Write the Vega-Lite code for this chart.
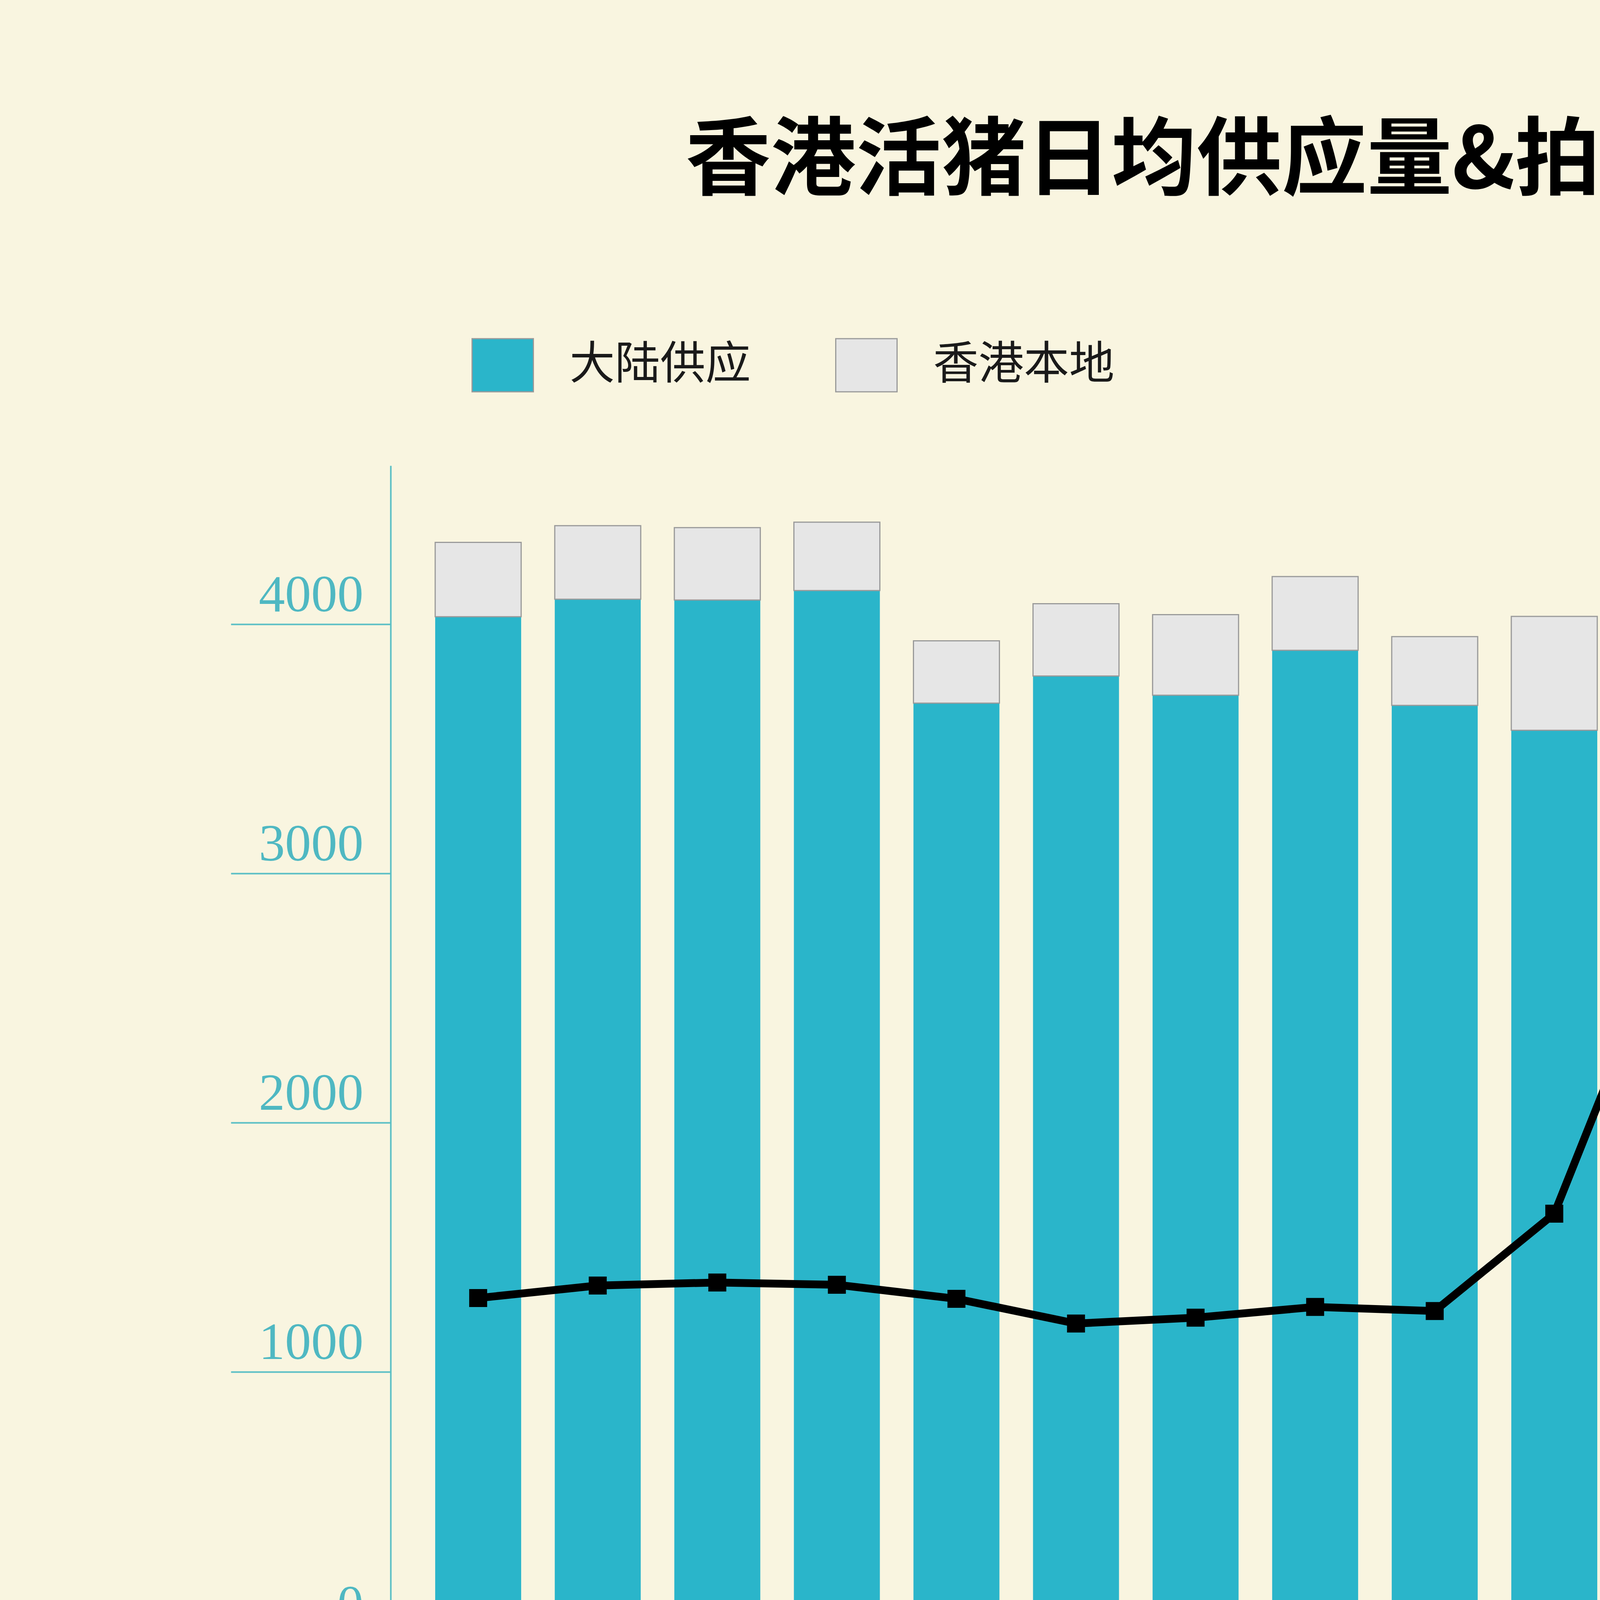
{
  "$schema": "https://vega.github.io/schema/vega-lite/v6.json",
  "description": "香港活猪日均供应量与拍卖价",
  "width": 6128,
  "height": 5594,
  "autosize": {"type": "none"},
  "padding": 0,
  "background": "#f9f5e0",
  "title": {
    "text": "香港活猪日均供应量&拍卖价",
    "font": "Noto Sans CJK SC",
    "fontSize": 218,
    "fontWeight": "bold",
    "color": "#000000",
    "anchor": "middle",
    "frame": "group",
    "baseline": "alphabetic",
    "dx": 80,
    "offset": -700,
    "limit": 0
  },
  "config": {
    "view": {"stroke": null},
    "axis": {"grid": false}
  },
  "datasets": {
    "supply": [
      {"month": "2018/08", "source": "大陆供应", "count": 4030},
      {"month": "2018/08", "source": "香港本地", "count": 298},
      {"month": "2018/09", "source": "大陆供应", "count": 4100},
      {"month": "2018/09", "source": "香港本地", "count": 295},
      {"month": "2018/10", "source": "大陆供应", "count": 4097},
      {"month": "2018/10", "source": "香港本地", "count": 290},
      {"month": "2018/11", "source": "大陆供应", "count": 4135},
      {"month": "2018/11", "source": "香港本地", "count": 274},
      {"month": "2018/12", "source": "大陆供应", "count": 3683},
      {"month": "2018/12", "source": "香港本地", "count": 250},
      {"month": "2019/01", "source": "大陆供应", "count": 3792},
      {"month": "2019/01", "source": "香港本地", "count": 290},
      {"month": "2019/02", "source": "大陆供应", "count": 3715},
      {"month": "2019/02", "source": "香港本地", "count": 323},
      {"month": "2019/03", "source": "大陆供应", "count": 3895},
      {"month": "2019/03", "source": "香港本地", "count": 296},
      {"month": "2019/04", "source": "大陆供应", "count": 3674},
      {"month": "2019/04", "source": "香港本地", "count": 276},
      {"month": "2019/05", "source": "大陆供应", "count": 3574},
      {"month": "2019/05", "source": "香港本地", "count": 457},
      {"month": "2019/06", "source": "大陆供应", "count": 1788},
      {"month": "2019/06", "source": "香港本地", "count": 392},
      {"month": "2019/07", "source": "大陆供应", "count": 1708},
      {"month": "2019/07", "source": "香港本地", "count": 295},
      {"month": "2019/08/20", "source": "大陆供应", "count": 1256},
      {"month": "2019/08/20", "source": "香港本地", "count": 288}
    ],
    "price": [
      {"month": "2018/08", "price": 1268},
      {"month": "2018/09", "price": 1317},
      {"month": "2018/10", "price": 1329},
      {"month": "2018/11", "price": 1320},
      {"month": "2018/12", "price": 1265},
      {"month": "2019/01", "price": 1168},
      {"month": "2019/02", "price": 1191},
      {"month": "2019/03", "price": 1233},
      {"month": "2019/04", "price": 1217},
      {"month": "2019/05", "price": 1599},
      {"month": "2019/06", "price": 2773},
      {"month": "2019/07", "price": 3282},
      {"month": "2019/08/20", "price": 4254}
    ]
  },
  "layer": [
    {
      "data": {"name": "supply"},
      "mark": {"type": "bar", "stroke": "#9a9a9a"},
      "encoding": {
        "x": {
          "field": "month",
          "type": "nominal",
          "sort": null,
          "scale": {"range": [1000, 5195], "paddingInner": 0.281, "paddingOuter": 0.493, "align": 0.378},
          "axis": {
            "orient": "bottom",
            "offset": -1444,
            "labelAngle": 0,
            "ticks": false,
            "domainColor": "#111111",
            "domainWidth": 5,
            "labelFont": "Liberation Serif",
            "labelFontSize": 142,
            "labelColor": "#111111",
            "labelPadding": 81,
            "labelLimit": 3000,
            "labelOverlap": false,
            "labelExpr": "datum.value == '2019/06' ? '06' : datum.value == '2019/07' ? '07' : (datum.value == '2018/08' || datum.value == '2019/02' || datum.value == '2019/08/20') ? datum.value : ''",
            "labelAlign": {"condition": {"test": "datum.value == '2019/08/20'", "value": "left"}, "value": "center"},
            "labelOffset": {"condition": {"test": "datum.value == '2019/08/20'", "value": -127}, "value": 0},
            "title": ["数据来源：香港特别行政区食物环境卫生署", "www.fehd.gov.hk/sc_chi/sh/data/supply_avg_tw.html"],
            "titleFont": "DejaVu Serif, Noto Sans CJK SC",
            "titleFontSize": 108,
            "titleFontWeight": "normal",
            "titleColor": "#585858",
            "titleAlign": "left",
            "titleBaseline": "alphabetic",
            "titleLineHeight": 139,
            "titleX": 996,
            "titleY": 623,
            "titleLimit": 10000
          }
        },
        "y": {
          "field": "count",
          "type": "quantitative",
          "stack": "zero",
          "scale": {"domain": [0, 4636], "range": [4150, 1192], "nice": false},
          "axis": {
            "orient": "left",
            "offset": -1000,
            "zindex": 1,
            "values": [0, 1000, 2000, 3000, 4000],
            "format": "d",
            "domainColor": "#5bbfc5",
            "domainWidth": 4,
            "tickColor": "#5bbfc5",
            "tickWidth": 4,
            "tickSize": 409,
            "tickOpacity": {"condition": {"test": "datum.value == 0", "value": 0}, "value": 1},
            "labelFont": "Liberation Serif",
            "labelFontSize": 134,
            "labelColor": "#4fb8c2",
            "labelAlign": "right",
            "labelBaseline": "alphabetic",
            "labelPadding": -339,
            "labelOffset": {"condition": {"test": "datum.value == 0", "value": 0}, "value": -33},
            "labelLimit": 1000,
            "title": ["若有机构需要香港公开数据，且同样相信客观数据的力量", "请与我们联系 ，我们提供数据查询、分析、图表支持"],
            "titleFont": "Noto Sans CJK SC",
            "titleFontSize": 119,
            "titleFontWeight": "normal",
            "titleColor": "#555555",
            "titleAngle": 0,
            "titleAlign": "right",
            "titleBaseline": "alphabetic",
            "titleLineHeight": 159,
            "titleX": 5052,
            "titleY": 5354,
            "titleLimit": 10000
          }
        },
        "color": {
          "field": "source",
          "type": "nominal",
          "scale": {"domain": ["大陆供应", "香港本地"], "range": ["#2ab5ca", "#e6e6e6"]},
          "legend": {
            "title": null,
            "orient": "none",
            "legendX": 1207,
            "legendY": 855,
            "direction": "horizontal",
            "padding": 0,
            "symbolType": "M-1,-0.866H1V0.866H-1Z",
            "symbolSize": 24649,
            "symbolStrokeColor": "#9a9a9a",
            "symbolStrokeWidth": 3,
            "symbolOpacity": 1,
            "labelFont": "Noto Sans CJK SC",
            "labelFontSize": 116,
            "labelColor": "#1a1a1a",
            "labelOffset": 91,
            "labelLimit": 2000,
            "columnPadding": 211
          }
        },
        "order": {"field": "source", "type": "ordinal", "sort": "ascending"},
        "strokeWidth": {"condition": {"test": "datum.source == '香港本地'", "value": 3}, "value": 0}
      }
    },
    {
      "data": {"name": "price"},
      "layer": [
        {
          "transform": [{"filter": "datum.month == '2019/08/20'"}],
          "mark": {"type": "rule", "opacity": 0},
          "encoding": {
            "x": {"field": "month", "type": "nominal", "sort": null, "scale": {"range": [1000, 5195], "paddingInner": 0.281, "paddingOuter": 0.493, "align": 0.378}},
            "y": {"field": "price", "type": "quantitative", "scale": {"domain": [0, 4000], "range": [4150, 1541], "nice": false}},
            "fill": {
              "field": "price",
              "type": "quantitative",
              "scale": {"domain": [0, 5000], "range": ["#f2f2f2", "#f2f2f2"]},
              "legend": {
                "title": null,
                "orient": "none",
                "legendX": 0,
                "legendY": 5192,
                "direction": "horizontal",
                "padding": 0,
                "gradientLength": 6128,
                "gradientThickness": 400,
                "gradientStrokeColor": "#3a3a3a",
                "gradientStrokeWidth": 3,
                "labelOpacity": 0,
                "zindex": 0
              }
            }
          }
        },
        {
          "mark": {"type": "line", "color": "#000000", "strokeWidth": 20},
          "encoding": {
            "x": {
              "field": "month",
              "type": "nominal",
              "sort": null,
              "scale": {"range": [1000, 5195], "paddingInner": 0.281, "paddingOuter": 0.493, "align": 0.378},
              "axis": {
                "orient": "top",
                "labels": false,
                "ticks": false,
                "domain": false,
                "title": "数闻",
                "titleFont": "Noto Sans CJK SC",
                "titleFontSize": 190,
                "titleFontWeight": "bold",
                "titleColor": "#a0a0a0",
                "titleAlign": "left",
                "titleBaseline": "alphabetic",
                "titleX": 4959,
                "titleY": 4747,
                "titleLimit": 10000
              }
            },
            "y": {
              "field": "price",
              "type": "quantitative",
              "scale": {"domain": [0, 4000], "range": [4150, 1541], "nice": false},
              "axis": {
                "orient": "right",
                "offset": -933,
                "values": [1000, 2000, 3000, 4000],
                "format": "d",
                "domainColor": "#4d4b45",
                "domainWidth": 4,
                "tickColor": "#4d4b45",
                "tickWidth": 4,
                "tickSize": 38,
                "labelFont": "Liberation Serif",
                "labelFontSize": 142,
                "labelColor": "#3d3b36",
                "labelAlign": "left",
                "labelBaseline": "middle",
                "labelPadding": 50,
                "labelOffset": -13,
                "labelLimit": 1000,
                "title": "@数闻DataNews",
                "titleFont": "Liberation Serif, Noto Sans CJK SC",
                "titleFontSize": 115,
                "titleFontWeight": "normal",
                "titleColor": "#6a6a6a",
                "titleAngle": 0,
                "titleAlign": "center",
                "titleBaseline": "alphabetic",
                "titleX": -182,
                "titleY": 5003,
                "titleLimit": 10000
              }
            }
          }
        },
        {
          "mark": {"type": "point", "shape": "square", "filled": true, "size": 2116, "color": "#000000", "opacity": 1},
          "encoding": {
            "x": {"field": "month", "type": "nominal", "sort": null, "scale": {"range": [1000, 5195], "paddingInner": 0.281, "paddingOuter": 0.493, "align": 0.378}},
            "y": {"field": "price", "type": "quantitative", "scale": {"domain": [0, 4000], "range": [4150, 1541], "nice": false}}
          }
        },
        {
          "transform": [{"filter": "datum.month == '2019/08/20'"}],
          "mark": {"type": "text", "font": "Liberation Serif", "fontSize": 118, "color": "#111111", "align": "center", "baseline": "alphabetic", "dx": -60, "dy": -470},
          "encoding": {
            "x": {"field": "month", "type": "nominal", "sort": null, "scale": {"range": [1000, 5195], "paddingInner": 0.281, "paddingOuter": 0.493, "align": 0.378}},
            "y": {"field": "price", "type": "quantitative", "scale": {"domain": [0, 4000], "range": [4150, 1541], "nice": false}},
            "text": {"field": "month"}
          }
        },
        {
          "transform": [{"filter": "datum.month == '2019/08/20'"}],
          "mark": {"type": "text", "text": "香港活猪拍卖均价", "font": "Noto Sans CJK SC", "fontSize": 123, "color": "#111111", "align": "center", "baseline": "alphabetic", "dx": -60, "dy": -316},
          "encoding": {
            "x": {"field": "month", "type": "nominal", "sort": null, "scale": {"range": [1000, 5195], "paddingInner": 0.281, "paddingOuter": 0.493, "align": 0.378}},
            "y": {"field": "price", "type": "quantitative", "scale": {"domain": [0, 4000], "range": [4150, 1541], "nice": false}}
          }
        },
        {
          "transform": [{"filter": "datum.month == '2019/08/20'"}],
          "mark": {"type": "text", "font": "Liberation Serif", "fontSize": 165, "fontWeight": "bold", "color": "#000000", "align": "center", "baseline": "alphabetic", "dx": -60, "dy": -100},
          "encoding": {
            "x": {"field": "month", "type": "nominal", "sort": null, "scale": {"range": [1000, 5195], "paddingInner": 0.281, "paddingOuter": 0.493, "align": 0.378}},
            "y": {"field": "price", "type": "quantitative", "scale": {"domain": [0, 4000], "range": [4150, 1541], "nice": false}},
            "text": {"field": "price", "type": "quantitative", "format": "$d"}
          }
        }
      ]
    }
  ],
  "resolve": {"scale": {"y": "independent"}, "axis": {"x": "independent"}}
}
